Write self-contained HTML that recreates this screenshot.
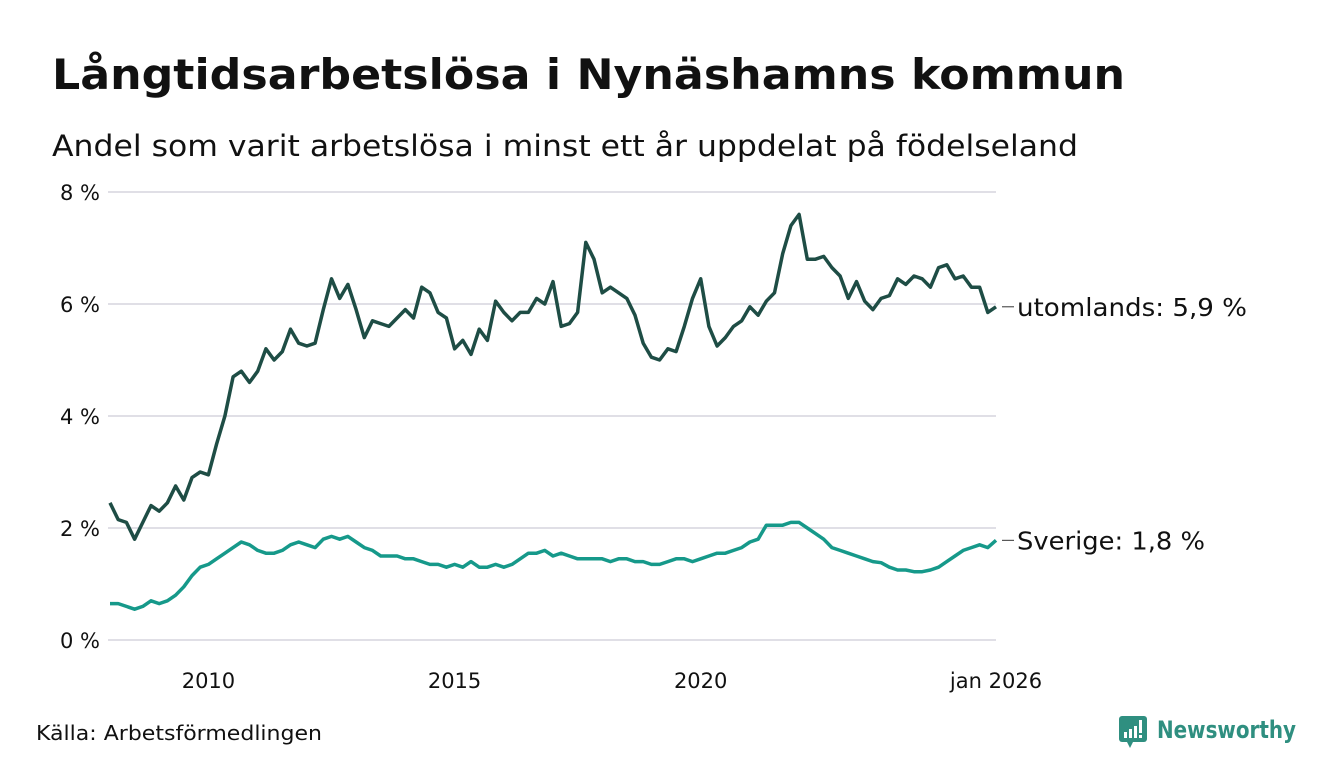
<!DOCTYPE html>
<html><head><meta charset="utf-8">
<style>
body{margin:0;background:#fff;font-family:"DejaVu Sans","Liberation Sans",sans-serif;}
#wrap{position:relative;width:1340px;height:780px;overflow:hidden;}
svg text{font-family:"DejaVu Sans","Liberation Sans",sans-serif;}
</style></head>
<body>
<div id="wrap">
<svg id="chart" width="1340" height="780">
  <text x="52" y="89" font-size="42" font-weight="bold" fill="#111" textLength="1073" lengthAdjust="spacingAndGlyphs">Långtidsarbetslösa i Nynäshamns kommun</text>
  <text x="52" y="156" font-size="29" fill="#111" textLength="1026" lengthAdjust="spacingAndGlyphs">Andel som varit arbetslösa i minst ett år uppdelat på födelseland</text>
  <g id="grid"></g>
  <g id="xaxis"></g>
  <g id="lines"></g>
  <text x="36" y="740" font-size="20" fill="#111" textLength="286" lengthAdjust="spacingAndGlyphs">Källa: Arbetsförmedlingen</text>
  <g>
    <rect x="1119" y="716" width="28" height="26" rx="3" fill="#2f8f80"/>
    <polygon points="1127,742 1133,742 1130,748" fill="#2f8f80"/>
    <rect x="1124" y="732" width="3" height="6" fill="#fff"/><rect x="1129" y="729" width="3" height="9" fill="#fff"/><rect x="1134" y="726" width="3" height="12" fill="#fff"/><rect x="1139" y="720" width="3" height="13" fill="#fff"/><rect x="1139" y="735" width="3" height="3" fill="#fff"/>
    <text x="1157" y="738" font-size="24" font-weight="bold" fill="#2f8f80" textLength="139" lengthAdjust="spacingAndGlyphs">Newsworthy</text>
  </g>
</svg>
</div>
<script>
const yTicks = [0, 2, 4, 6, 8];
const xTickYears = [2010, 2015, 2020, 2026];
const xTickLabels = ["2010", "2015", "2020", "jan 2026"];
const startYear = 2008;
const stepMonths = 2;
const utomlands = [2.45,2.15,2.1,1.8,2.1,2.4,2.3,2.45,2.75,2.5,2.9,3.0,2.95,3.5,4.0,4.7,4.8,4.6,4.8,5.2,5.0,5.15,5.55,5.3,5.25,5.3,5.9,6.45,6.1,6.35,5.9,5.4,5.7,5.65,5.6,5.75,5.9,5.75,6.3,6.2,5.85,5.75,5.2,5.35,5.1,5.55,5.35,6.05,5.85,5.7,5.85,5.85,6.1,6.0,6.4,5.6,5.65,5.85,7.1,6.8,6.2,6.3,6.2,6.1,5.8,5.3,5.05,5.0,5.2,5.15,5.6,6.1,6.45,5.6,5.25,5.4,5.6,5.7,5.95,5.8,6.05,6.2,6.9,7.4,7.6,6.8,6.8,6.85,6.65,6.5,6.1,6.4,6.05,5.9,6.1,6.15,6.45,6.35,6.5,6.45,6.3,6.65,6.7,6.45,6.5,6.3,6.3,5.85,5.95];
const sverige = [0.65,0.65,0.6,0.55,0.6,0.7,0.65,0.7,0.8,0.95,1.15,1.3,1.35,1.45,1.55,1.65,1.75,1.7,1.6,1.55,1.55,1.6,1.7,1.75,1.7,1.65,1.8,1.85,1.8,1.85,1.75,1.65,1.6,1.5,1.5,1.5,1.45,1.45,1.4,1.35,1.35,1.3,1.35,1.3,1.4,1.3,1.3,1.35,1.3,1.35,1.45,1.55,1.55,1.6,1.5,1.55,1.5,1.45,1.45,1.45,1.45,1.4,1.45,1.45,1.4,1.4,1.35,1.35,1.4,1.45,1.45,1.4,1.45,1.5,1.55,1.55,1.6,1.65,1.75,1.8,2.05,2.05,2.05,2.1,2.1,2.0,1.9,1.8,1.65,1.6,1.55,1.5,1.45,1.4,1.38,1.3,1.25,1.25,1.22,1.22,1.25,1.3,1.4,1.5,1.6,1.65,1.7,1.65,1.78];
const seriesLabels = ["utomlands: 5,9 %", "Sverige: 1,8 %"];

const NS = "http://www.w3.org/2000/svg";
const x0 = 110, x1 = 996, yBase = 640, yPer = 56;
const endYear = startYear + (utomlands.length - 1) * stepMonths / 12;
const xs = yr => x0 + (yr - startYear) / (endYear - startYear) * (x1 - x0);
const ys = v => yBase - v * yPer;
function mk(tag, attrs, parent) { const e = document.createElementNS(NS, tag); for (const k in attrs) e.setAttribute(k, attrs[k]); parent.appendChild(e); return e; }

const grid = document.getElementById('grid');
yTicks.forEach(t => {
  const l = mk('line', {x1: 108, x2: 996, y1: ys(t), y2: ys(t), stroke: '#e0dfe6', 'stroke-width': 2}, grid);
  
  
  const tx = mk('text', {x: 100, y: ys(t) + 8, 'font-size': 21, fill: '#111', 'text-anchor': 'end'}, grid);
  tx.textContent = t + ' %';
  
  
});
const xa = document.getElementById('xaxis');
xTickYears.forEach((yr, i) => {
  const tx = mk('text', {x: xs(yr), y: 688, 'font-size': 21, fill: '#111', 'text-anchor': 'middle'}, xa);
  tx.textContent = xTickLabels[i];
  
  
});
const lines = document.getElementById('lines');
function draw(vals, color, name, label, w) {
  const d = vals.map((v, i) => (i ? 'L' : 'M') + xs(startYear + i * stepMonths / 12).toFixed(1) + ',' + ys(v).toFixed(1)).join('');
  const p = mk('path', {d: d, fill: 'none', stroke: color, 'stroke-width': 3.5, 'stroke-linejoin': 'round'}, lines);
  
  
  const last = vals[vals.length - 1];
  const ly = ys(last);
  mk('line', {x1: 1002, x2: 1014, y1: ly, y2: ly, stroke: '#333', 'stroke-width': 1}, lines);
  const t = mk('text', {x: 1017, y: ly + 9, 'font-size': 25, fill: '#111', textLength: w, lengthAdjust: 'spacingAndGlyphs'}, lines);
  t.textContent = label;
  
  
}
draw(sverige, '#16998a', 'sverige', seriesLabels[1], 188);
draw(utomlands, '#1e4d45', 'utomlands', seriesLabels[0], 230);
</script>
</body></html>
